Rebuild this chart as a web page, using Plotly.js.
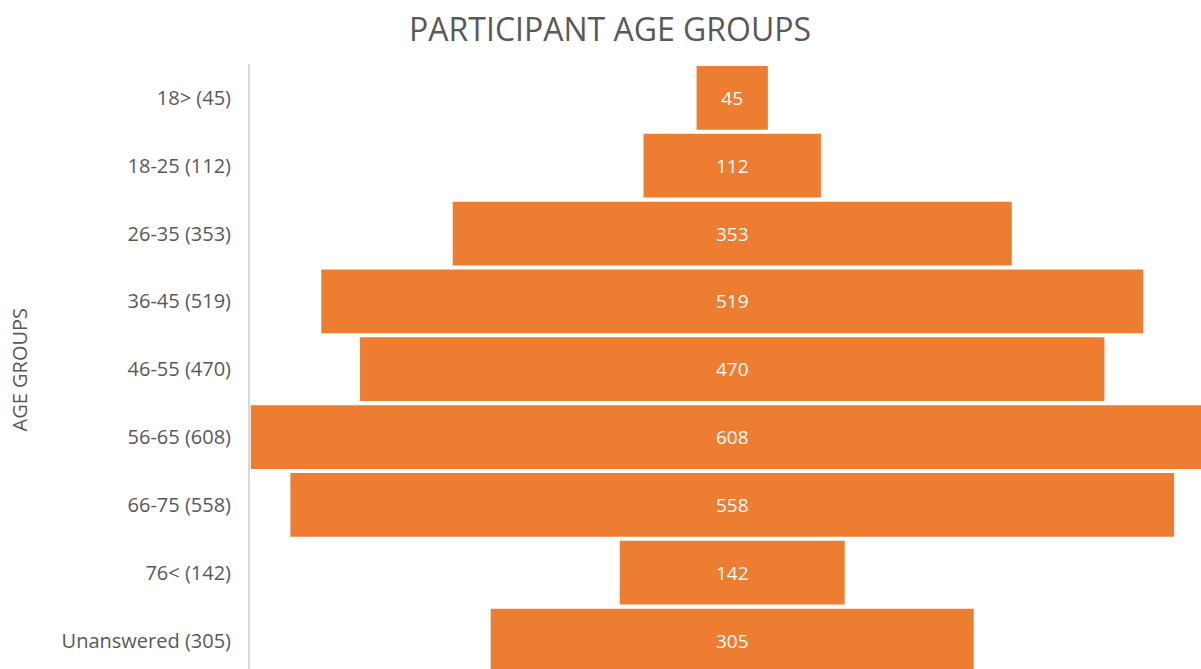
<!DOCTYPE html>
<html>
<head>
<meta charset="utf-8">
<script src="https://cdn.plot.ly/plotly-3.0.1.min.js"></script>
<style>
  html, body { margin: 0; padding: 0; overflow: hidden; background: #fff; }
  #chart { width: 1201px; height: 669px; }
</style>
</head>
<body>
<div id="chart"></div>
<script>
// Age groups, top to bottom
var groups = ["18>", "18-25", "26-35", "36-45", "46-55", "56-65", "66-75", "76<", "Unanswered"];
var counts = [45, 112, 353, 519, 470, 608, 558, 142, 305];

var labels = groups.map(function (g, i) { return g + " (" + counts[i] + ")"; });

var data = [{
    type: "funnel",
    y: labels,
    x: counts,
    textinfo: "value",
    textposition: "inside",
    insidetextanchor: "middle",
    textfont: { family: "Open Sans", size: 19, color: "#ffffff" },
    marker: { color: "#ED7D31", line: { width: 0 } },
    connector: { visible: false },
    hoverinfo: "y+x"
}];

var layout = {
    width: 1201,
    height: 669,
    margin: { l: 250, r: 0, t: 64, b: 0 },
    paper_bgcolor: "#ffffff",
    plot_bgcolor: "#ffffff",
    showlegend: false,
    funnelgap: 0.06,
    font: { family: "Open Sans", color: "#595959" },
    title: {
        text: "PARTICIPANT AGE GROUPS",
        font: { family: "Open Sans", size: 32, color: "#595959" },
        x: 0.508,
        xanchor: "center",
        y: 0.955,
        yanchor: "middle"
    },
    xaxis: {
        range: [-304.5, 296],
        visible: false,
        fixedrange: true
    },
    yaxis: {
        type: "category",
        range: [8.42, -0.5],
        showline: true,
        linecolor: "#d9d9d9",
        linewidth: 2,
        ticks: "",
        ticklabelstandoff: 13,
        tickfont: { family: "Open Sans", size: 20, color: "#595959" },
        showgrid: false,
        zeroline: false
    },
    annotations: [{
        text: "AGE GROUPS",
        xref: "paper",
        yref: "paper",
        x: -0.2419,
        y: 0.495,
        xanchor: "center",
        yanchor: "middle",
        textangle: -90,
        showarrow: false,
        font: { family: "Open Sans", size: 20, color: "#595959" }
    }]
};

Plotly.newPlot("chart", data, layout, { displayModeBar: false, staticPlot: true });
</script>
</body>
</html>
